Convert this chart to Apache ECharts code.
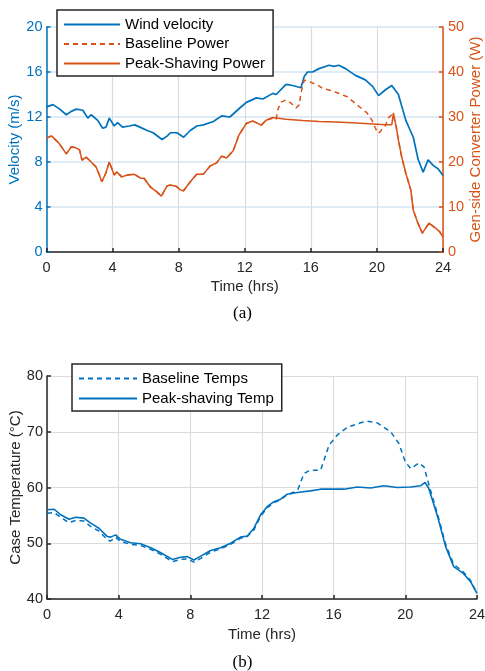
<!DOCTYPE html>
<html>
<head>
<meta charset="utf-8">
<script src="https://cdn.jsdelivr.net/npm/echarts@6/dist/echarts.min.js"></script>
<style>
html,body{margin:0;padding:0;background:#fff;}
#chart{width:485px;height:671px;}
</style>
</head>
<body>
<div id="chart"></div>
<script>
// ---- Data (time in hours) ----
const xTicks = [0, 4, 8, 12, 16, 20, 24];

const windVelocity = [[0,12.9],[0.4,13.1],[0.8,12.7],[1.2,12.2],[1.5,12.5],[1.8,12.7],[2.2,12.6],[2.5,11.9],[2.7,12.2],[3.1,11.7],[3.4,11.0],[3.6,11.1],[3.8,11.9],[4.1,11.2],[4.3,11.5],[4.6,11.1],[5.0,11.2],[5.35,11.3],[5.65,11.1],[6.1,10.8],[6.45,10.6],[7.0,10.0],[7.3,10.3],[7.5,10.6],[7.9,10.6],[8.3,10.2],[8.7,10.8],[9.1,11.2],[9.5,11.3],[10.1,11.6],[10.6,12.1],[11.1,12.0],[11.7,12.8],[12.1,13.3],[12.7,13.7],[13.1,13.6],[13.7,14.1],[13.9,14.0],[14.5,14.9],[14.9,14.8],[15.4,14.6],[15.6,15.6],[15.8,16.0],[16.1,16.0],[16.5,16.3],[17.1,16.6],[17.4,16.5],[17.7,16.6],[18.1,16.3],[18.7,15.7],[19.3,15.3],[19.75,14.7],[20.1,13.9],[20.5,14.4],[20.9,14.8],[21.3,14.0],[21.75,11.7],[22.2,10.2],[22.5,8.2],[22.8,7.1],[23.1,8.2],[23.4,7.7],[23.7,7.4],[24,6.8]];

const baselinePower = [[0,25.3],[0.3,25.8],[0.75,24.2],[1.2,21.8],[1.5,23.4],[1.8,23.1],[2.0,22.7],[2.15,20.4],[2.4,21.1],[2.6,20.4],[3.0,18.9],[3.2,17.1],[3.35,15.6],[3.6,17.6],[3.8,20.0],[4.1,17.1],[4.25,17.8],[4.55,16.7],[4.9,17.1],[5.3,17.3],[5.7,16.4],[5.9,16.4],[6.3,14.4],[6.7,13.3],[6.95,12.4],[7.3,14.7],[7.5,14.9],[7.85,14.6],[8.1,13.8],[8.3,13.6],[8.7,15.6],[9.1,17.3],[9.5,17.3],[9.9,19.1],[10.3,19.8],[10.6,21.3],[10.9,20.9],[11.3,22.5],[11.65,26.0],[12.1,28.6],[12.5,29.1],[13.0,28.2],[13.3,29.3],[13.75,29.8],[13.9,29.5],[14.0,31.6],[14.2,33.3],[14.5,33.8],[14.8,33.1],[15.1,32.0],[15.3,32.7],[15.4,35.3],[15.6,38.2],[15.8,38.0],[16.4,37.1],[16.7,36.4],[17.1,36.0],[17.6,35.4],[18.2,34.5],[18.8,32.7],[19.4,30.9],[19.7,29.3],[19.9,27.6],[20.05,26.4],[20.2,26.7],[20.35,27.6],[20.5,28.0],[20.7,29.8],[20.95,30.7],[21.0,30.9],[21.15,28.2],[21.3,24.9],[21.5,21.1],[21.75,17.5],[22.05,13.8],[22.2,9.3],[22.45,6.7],[22.75,4.2],[22.95,5.3],[23.15,6.4],[23.55,5.3],[23.8,4.5],[24,3.3]];

const peakShavingPower = [[0,25.3],[0.3,25.8],[0.75,24.2],[1.2,21.8],[1.5,23.4],[1.8,23.1],[2.0,22.7],[2.15,20.4],[2.4,21.1],[2.6,20.4],[3.0,18.9],[3.2,17.1],[3.35,15.6],[3.6,17.6],[3.8,20.0],[4.1,17.1],[4.25,17.8],[4.55,16.7],[4.9,17.1],[5.3,17.3],[5.7,16.4],[5.9,16.4],[6.3,14.4],[6.7,13.3],[6.95,12.4],[7.3,14.7],[7.5,14.9],[7.85,14.6],[8.1,13.8],[8.3,13.6],[8.7,15.6],[9.1,17.3],[9.5,17.3],[9.9,19.1],[10.3,19.8],[10.6,21.3],[10.9,20.9],[11.3,22.5],[11.65,26.0],[12.1,28.6],[12.5,29.1],[13.0,28.2],[13.3,29.3],[13.7,29.9],[14.5,29.5],[15.5,29.2],[16.5,29.0],[17.5,28.9],[18.5,28.7],[19.5,28.5],[20.5,28.3],[20.9,28.3],[21.0,30.9],[21.15,28.2],[21.3,24.9],[21.5,21.1],[21.75,17.5],[22.05,13.8],[22.2,9.3],[22.45,6.7],[22.75,4.2],[22.95,5.3],[23.15,6.4],[23.55,5.3],[23.8,4.5],[24,3.3]];

const baselineTemps = [[0,55.4],[0.4,55.5],[0.77,54.6],[1.23,53.7],[1.6,54.1],[2.06,54.0],[2.44,53.0],[2.9,52.2],[3.37,50.6],[3.55,50.4],[3.83,51.1],[4.1,50.3],[4.67,49.8],[5.23,49.6],[5.79,48.9],[6.35,48.0],[7.0,46.7],[7.46,47.1],[7.83,47.2],[8.2,46.6],[8.58,47.3],[9.13,48.4],[9.69,49.0],[10.25,49.8],[10.8,50.9],[11.18,51.2],[11.55,52.4],[11.92,54.8],[12.3,56.4],[12.67,57.3],[13.04,57.8],[13.41,58.7],[13.8,59.2],[14.0,59.6],[14.34,62.5],[14.7,63.1],[15.27,63.1],[15.46,64.9],[15.74,67.6],[16.2,69.4],[16.76,70.8],[17.5,71.6],[17.87,71.9],[18.43,71.6],[19.18,70.0],[19.64,67.9],[20.0,64.6],[20.3,63.4],[20.76,64.4],[21.04,63.7],[21.4,59.55],[21.8,55.2],[22.25,49.8],[22.7,46.2],[23.2,45.0],[23.64,43.3],[24,41.0]];

const peakShavingTemp = [[0,56.0],[0.4,56.1],[0.77,55.1],[1.23,54.3],[1.6,54.65],[2.06,54.5],[2.44,53.6],[2.9,52.7],[3.37,51.2],[3.55,51.1],[3.83,51.5],[4.1,50.7],[4.67,50.1],[5.23,49.9],[5.79,49.2],[6.35,48.3],[7.0,47.1],[7.46,47.5],[7.83,47.6],[8.2,47.0],[8.58,47.7],[9.13,48.7],[9.69,49.2],[10.25,50.0],[10.8,51.1],[11.18,51.3],[11.55,52.7],[11.92,55.1],[12.3,56.6],[12.67,57.45],[13.04,57.9],[13.41,58.8],[13.97,59.1],[14.7,59.4],[15.27,59.7],[15.83,59.7],[16.57,59.7],[17.32,60.1],[18.06,59.9],[18.8,60.3],[19.55,60.0],[20.3,60.1],[20.85,60.3],[21.1,60.9],[21.3,59.9],[21.8,54.8],[22.25,49.4],[22.7,45.8],[23.2,44.7],[23.64,43.1],[24,41.0]];

// ---- Styling ----
const BLUE = '#0072BD', ORANGE = '#D95319', DARK = '#262626';
const FONT = 'Liberation Sans, Arial, sans-serif';

const chart = echarts.init(document.getElementById('chart'), null, {renderer: 'canvas'});

function xAxisCfg(gridIndex, nameGap) {
  return {
    type: 'value', gridIndex, min: xTicks[0], max: xTicks[xTicks.length - 1], interval: 4,
    name: 'Time (hrs)', nameLocation: 'middle', nameGap, nameMoveOverlap: false,
    nameTextStyle: {color: DARK, fontSize: 15, fontFamily: FONT},
    axisLine: {show: true, onZero: false, lineStyle: {color: DARK, width: 1.5}},
    axisTick: {show: true, inside: true, length: 4, lineStyle: {color: DARK, width: 1.5}},
    axisLabel: {color: DARK, fontSize: 14.5, fontFamily: FONT, margin: 8},
    splitLine: {show: true, lineStyle: {color: '#dcdcdc', width: 1.2}}
  };
}

const legendCommon = {
  orient: 'vertical', itemHeight: 14,
  backgroundColor: '#fff', borderColor: DARK, borderWidth: 1.5, borderRadius: 0,
  itemStyle: {opacity: 0},
  textStyle: {color: '#000', fontSize: 15, fontFamily: FONT}
};

const option = {
  animation: false,
  backgroundColor: '#fff',
  title: [
    {text: '(a)', left: 'center', top: 300, textStyle: {fontFamily: 'Liberation Serif, Times New Roman, serif', fontSize: 17, fontWeight: 'normal', color: '#000'}},
    {text: '(b)', left: 'center', top: 649, textStyle: {fontFamily: 'Liberation Serif, Times New Roman, serif', fontSize: 17, fontWeight: 'normal', color: '#000'}}
  ],
  grid: [
    {left: 46.5, right: 42, top: 27, height: 225, containLabel: false, outerBoundsMode: 'none'},
    {left: 47, right: 8, top: 376, height: 223, containLabel: false, outerBoundsMode: 'none'}
  ],
  legend: [
    Object.assign({}, legendCommon, {
      data: ['Wind velocity', 'Baseline Power', 'Peak-Shaving Power'],
      left: 57, top: 10, padding: [7, 8, 5, 6], itemGap: 4.5, itemWidth: 56
    }),
    Object.assign({}, legendCommon, {
      data: ['Baseline Temps', 'Peak-shaving Temp'],
      left: 72, top: 364, padding: [7, 8, 5, 6], itemGap: 5, itemWidth: 58
    })
  ],
  xAxis: [xAxisCfg(0, 27), xAxisCfg(1, 28)],
  yAxis: [
    {
      type: 'value', gridIndex: 0, position: 'left', min: 0, max: 20, interval: 4,
      name: 'Velocity (m/s)', nameLocation: 'middle', nameGap: 24, nameMoveOverlap: false,
      nameTextStyle: {color: BLUE, fontSize: 15, fontFamily: FONT},
      axisLine: {show: true, lineStyle: {color: BLUE, width: 1.5}},
      axisTick: {show: true, inside: true, length: 4, lineStyle: {color: BLUE, width: 1.5}},
      axisLabel: {color: BLUE, fontSize: 14.5, fontFamily: FONT, margin: 4},
      splitLine: {show: true, lineStyle: {color: '#d4e5f2', width: 1.5}}
    },
    {
      type: 'value', gridIndex: 0, position: 'right', min: 0, max: 50, interval: 10,
      name: 'Gen-side Converter Power (W)', nameLocation: 'middle', nameGap: 25, nameMoveOverlap: false,
      nameTextStyle: {color: ORANGE, fontSize: 15, fontFamily: FONT},
      axisLine: {show: true, lineStyle: {color: ORANGE, width: 1.5}},
      axisTick: {show: true, inside: true, length: 4, lineStyle: {color: ORANGE, width: 1.5}},
      axisLabel: {color: ORANGE, fontSize: 14.5, fontFamily: FONT, margin: 5},
      splitLine: {show: false}
    },
    {
      type: 'value', gridIndex: 1, min: 40, max: 80, interval: 10,
      name: 'Case Temperature (°C)', nameLocation: 'middle', nameGap: 24, nameMoveOverlap: false,
      nameTextStyle: {color: DARK, fontSize: 15, fontFamily: FONT},
      axisLine: {show: true, lineStyle: {color: DARK, width: 1.5}},
      axisTick: {show: true, inside: true, length: 4, lineStyle: {color: DARK, width: 1.5}},
      axisLabel: {color: DARK, fontSize: 14.5, fontFamily: FONT, margin: 4},
      splitLine: {show: true, lineStyle: {color: '#dcdcdc', width: 1.2}}
    }
  ],
  series: [
    {name: 'Wind velocity', type: 'line', xAxisIndex: 0, yAxisIndex: 0, data: windVelocity,
     symbol: 'none', showSymbol: false, color: BLUE, lineStyle: {color: BLUE, width: 1.7}},
    {name: 'Baseline Power', type: 'line', xAxisIndex: 0, yAxisIndex: 1, data: baselinePower,
     symbol: 'none', showSymbol: false, color: ORANGE, lineStyle: {color: ORANGE, width: 1.5, type: [5, 4]}},
    {name: 'Peak-Shaving Power', type: 'line', xAxisIndex: 0, yAxisIndex: 1, data: peakShavingPower,
     symbol: 'none', showSymbol: false, color: ORANGE, lineStyle: {color: ORANGE, width: 1.5}},
    {name: 'Baseline Temps', type: 'line', xAxisIndex: 1, yAxisIndex: 2, data: baselineTemps,
     symbol: 'none', showSymbol: false, color: BLUE, lineStyle: {color: BLUE, width: 1.5, type: [5, 4]}},
    {name: 'Peak-shaving Temp', type: 'line', xAxisIndex: 1, yAxisIndex: 2, data: peakShavingTemp,
     symbol: 'none', showSymbol: false, color: BLUE, lineStyle: {color: BLUE, width: 1.6}}
  ]
};
chart.setOption(option);
</script>
</body>
</html>
